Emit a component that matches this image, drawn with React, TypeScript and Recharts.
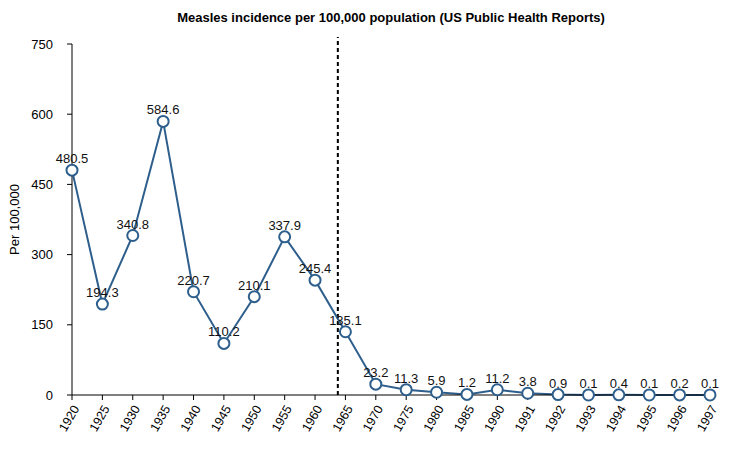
import { LineChart, Line, XAxis, YAxis, ReferenceLine, LabelList } from 'recharts'

const years = ['1920', '1925', '1930', '1935', '1940', '1945', '1950', '1955', '1960', '1965', '1970', '1975', '1980', '1985', '1990', '1991', '1992', '1993', '1994', '1995', '1996', '1997']
const incidence = [480.5, 194.3, 340.8, 584.6, 220.7, 110.2, 210.1, 337.9, 245.4, 135.1, 23.2, 11.3, 5.9, 1.2, 11.2, 3.8, 0.9, 0.1, 0.4, 0.1, 0.2, 0.1]
const yTicks = [0, 150, 300, 450, 600, 750]
// vaccine licensed 1963: between the 1960 and 1965 categories
const vaccinePos = 8.75

const data = years.map((year, i) => ({ idx: i, year, value: incidence[i] }))

const font = '"Liberation Sans", Arial, sans-serif'

export default function App() {
    return (
        <div style={{ position: 'absolute', left: 0, top: 0, width: 735, height: 450, background: '#fff', fontFamily: font }}>
            <div style={{ position: 'absolute', left: 72, width: 638, top: 10, textAlign: 'center', fontSize: 13, fontWeight: 'bold', color: '#000' }}>
                Measles incidence per 100,000 population (US Public Health Reports)
            </div>
            <LineChart width={735} height={450} data={data} margin={{ top: 44, right: 25, left: 0, bottom: 0 }}>
                <XAxis
                    dataKey="idx"
                    type="number"
                    domain={[0, years.length - 1]}
                    ticks={years.map((_, i) => i)}
                    interval={0}
                    tickFormatter={(i: number) => years[i]}
                    height={55}
                    stroke="#000"
                    tickSize={5}
                    angle={-60}
                    textAnchor="end"
                    tick={{ fill: '#000', fontSize: 12.5, fontFamily: font, dy: 2 }}
                />
                <YAxis
                    domain={[0, 750]}
                    ticks={yTicks}
                    width={72}
                    stroke="#000"
                    tickSize={5}
                    tick={{ fill: '#000', fontSize: 13, fontFamily: font, dx: -12 }}
                    label={{ value: 'Per 100,000', angle: -90, position: 'insideLeft', offset: 14, style: { textAnchor: 'middle', fill: '#000', fontSize: 13, fontFamily: font } }}
                />
                <ReferenceLine
                    segment={[{ x: vaccinePos, y: 0 }, { x: vaccinePos, y: 765 }]}
                    ifOverflow="visible"
                    stroke="#000"
                    strokeWidth={2}
                    strokeDasharray="4 3"
                />
                <Line
                    dataKey="value"
                    stroke="#2e5f8c"
                    strokeWidth={2}
                    dot={{ r: 5.5, fill: '#fff', stroke: '#2e5f8c', strokeWidth: 2 }}
                    isAnimationActive={false}
                >
                    <LabelList
                        dataKey="value"
                        position="top"
                        offset={7}
                        formatter={(v: number) => v.toFixed(1)}
                        style={{ fill: '#111', fontSize: 13, fontFamily: font }}
                    />
                </Line>
            </LineChart>
        </div>
    )
}
